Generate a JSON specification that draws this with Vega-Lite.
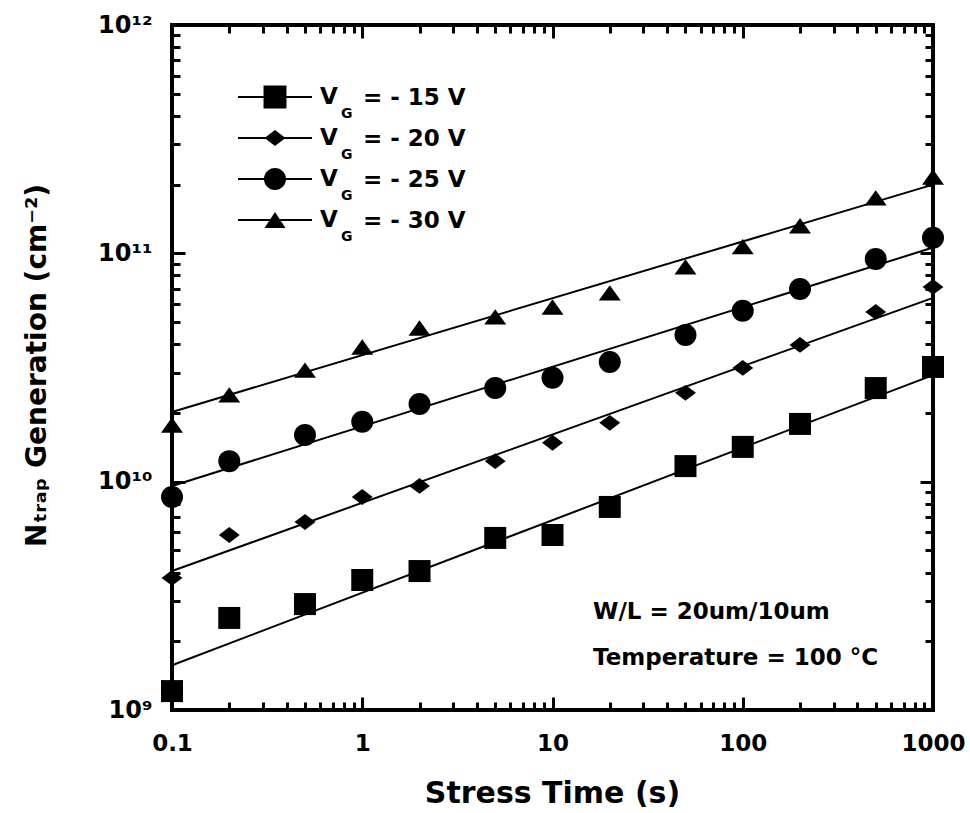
{
  "$schema": "https://vega.github.io/schema/vega-lite/v6.json",
  "width": 761,
  "height": 685,
  "autosize": "none",
  "padding": {"left": 172, "top": 25, "right": 37, "bottom": 103},
  "background": "white",
  "config": {
    "font": "DejaVu Sans",
    "view": {"stroke": "black", "strokeWidth": 4},
    "axis": {"grid": false, "domain": false, "tickColor": "black", "tickWidth": 3, "labelColor": "black", "titleColor": "black"}
  },
  "datasets": {
    "pts": [
      {"series": "-15 V", "t": 0.1, "n": 1.21e9},
      {"series": "-15 V", "t": 0.2, "n": 2.53e9},
      {"series": "-15 V", "t": 0.5, "n": 2.91e9},
      {"series": "-15 V", "t": 1, "n": 3.71e9},
      {"series": "-15 V", "t": 2, "n": 4.06e9},
      {"series": "-15 V", "t": 5, "n": 5.67e9},
      {"series": "-15 V", "t": 10, "n": 5.84e9},
      {"series": "-15 V", "t": 20, "n": 7.75e9},
      {"series": "-15 V", "t": 50, "n": 1.17e10},
      {"series": "-15 V", "t": 100, "n": 1.42e10},
      {"series": "-15 V", "t": 200, "n": 1.79e10},
      {"series": "-15 V", "t": 500, "n": 2.57e10},
      {"series": "-15 V", "t": 1000, "n": 3.18e10},
      {"series": "-20 V", "t": 0.1, "n": 3.79e9},
      {"series": "-20 V", "t": 0.2, "n": 5.84e9},
      {"series": "-20 V", "t": 0.5, "n": 6.66e9},
      {"series": "-20 V", "t": 1, "n": 8.57e9},
      {"series": "-20 V", "t": 2, "n": 9.58e9},
      {"series": "-20 V", "t": 5, "n": 1.23e10},
      {"series": "-20 V", "t": 10, "n": 1.48e10},
      {"series": "-20 V", "t": 20, "n": 1.81e10},
      {"series": "-20 V", "t": 50, "n": 2.45e10},
      {"series": "-20 V", "t": 100, "n": 3.15e10},
      {"series": "-20 V", "t": 200, "n": 3.97e10},
      {"series": "-20 V", "t": 500, "n": 5.54e10},
      {"series": "-20 V", "t": 1000, "n": 7.13e10},
      {"series": "-25 V", "t": 0.1, "n": 8.57e9},
      {"series": "-25 V", "t": 0.2, "n": 1.23e10},
      {"series": "-25 V", "t": 0.5, "n": 1.60e10},
      {"series": "-25 V", "t": 1, "n": 1.83e10},
      {"series": "-25 V", "t": 2, "n": 2.19e10},
      {"series": "-25 V", "t": 5, "n": 2.57e10},
      {"series": "-25 V", "t": 10, "n": 2.85e10},
      {"series": "-25 V", "t": 20, "n": 3.34e10},
      {"series": "-25 V", "t": 50, "n": 4.39e10},
      {"series": "-25 V", "t": 100, "n": 5.60e10},
      {"series": "-25 V", "t": 200, "n": 6.98e10},
      {"series": "-25 V", "t": 500, "n": 9.45e10},
      {"series": "-25 V", "t": 1000, "n": 1.17e11},
      {"series": "-30 V", "t": 0.1, "n": 1.77e10},
      {"series": "-30 V", "t": 0.2, "n": 2.40e10},
      {"series": "-30 V", "t": 0.5, "n": 3.08e10},
      {"series": "-30 V", "t": 1, "n": 3.89e10},
      {"series": "-30 V", "t": 2, "n": 4.71e10},
      {"series": "-30 V", "t": 5, "n": 5.27e10},
      {"series": "-30 V", "t": 10, "n": 5.82e10},
      {"series": "-30 V", "t": 20, "n": 6.71e10},
      {"series": "-30 V", "t": 50, "n": 8.72e10},
      {"series": "-30 V", "t": 100, "n": 1.07e11},
      {"series": "-30 V", "t": 200, "n": 1.32e11},
      {"series": "-30 V", "t": 500, "n": 1.75e11},
      {"series": "-30 V", "t": 1000, "n": 2.16e11}
    ],
    "fits": [
      {"series": "-15 V", "t": 0.1, "n": 1.57e9},
      {"series": "-15 V", "t": 1000, "n": 2.93e10},
      {"series": "-20 V", "t": 0.1, "n": 4.06e9},
      {"series": "-20 V", "t": 1000, "n": 6.38e10},
      {"series": "-25 V", "t": 0.1, "n": 9.58e9},
      {"series": "-25 V", "t": 1000, "n": 1.06e11},
      {"series": "-30 V", "t": 0.1, "n": 2.02e10},
      {"series": "-30 V", "t": 1000, "n": 2.00e11}
    ]
  },
  "layer": [
    {
      "data": {"name": "fits"},
      "mark": {"type": "line", "strokeWidth": 2},
      "encoding": {
        "x": {
          "field": "t", "type": "quantitative",
          "scale": {"type": "log", "domain": [0.1, 1000], "nice": false},
          "axis": {
            "orient": "bottom",
            "values": [0.1,0.2,0.3,0.4,0.5,0.6,0.7,0.8,0.9,1,2,3,4,5,6,7,8,9,10,20,30,40,50,60,70,80,90,100,200,300,400,500,600,700,800,900,1000],
            "tickSize": {"condition": {"test": "indexof([0.1,1,10,100,1000], datum.value) >= 0", "value": -13}, "value": -8},
            "labelExpr": "indexof([0.1,1,10,100,1000], datum.value) >= 0 ? '' + datum.value : ''",
            "labelFlush": false, "labelOverlap": false, "labelBound": false,
            "labelFont": "DejaVu Sans", "labelFontSize": 23, "labelFontWeight": "bold",
            "labelBaseline": "top", "labelPadding": 35,
            "title": "Stress Time (s)", "titleFont": "DejaVu Sans", "titleFontSize": 30, "titleFontWeight": "bold",
            "titleX": 380, "titleY": 92, "titleAlign": "center", "titleBaseline": "alphabetic"
          }
        },
        "y": {
          "field": "n", "type": "quantitative",
          "scale": {"type": "log", "domain": [1e9, 1e12], "nice": false},
          "axis": {
            "orient": "left",
            "values": [1e9,2e9,3e9,4e9,5e9,6e9,7e9,8e9,9e9,1e10,2e10,3e10,4e10,5e10,6e10,7e10,8e10,9e10,1e11,2e11,3e11,4e11,5e11,6e11,7e11,8e11,9e11,1e12],
            "tickSize": {"condition": {"test": "indexof([1e9,1e10,1e11,1e12], datum.value) >= 0", "value": -13}, "value": -8},
            "labelExpr": "datum.value == 1e9 ? '10⁹' : datum.value == 1e10 ? '10¹⁰' : datum.value == 1e11 ? '10¹¹' : datum.value == 1e12 ? '10¹²' : ''",
            "labelFlush": false, "labelOverlap": false, "labelBound": false,
            "labelFont": "DejaVu Sans", "labelFontSize": 24, "labelFontWeight": "bold",
            "labelBaseline": "middle", "labelAlign": "right", "labelPadding": 33,
            "title": "Nₜᵣₐₚ Generation (cm⁻²)", "titleFont": "DejaVu Sans", "titleFontSize": 28, "titleFontWeight": "bold",
            "titleX": -127, "titleY": 340, "titleAngle": 270, "titleAlign": "center", "titleBaseline": "alphabetic"
          }
        },
        "detail": {"field": "series", "type": "nominal"},
        "color": {
          "field": "series", "type": "nominal",
          "scale": {"range": ["black", "black", "black", "black"]},
          "legend": {
            "orient": "none", "legendX": 149, "legendY": 82, "title": null,
            "symbolSize": 1, "symbolStrokeWidth": 1, "symbolOpacity": 0,
            "labelExpr": "'G'", "labelFont": "DejaVu Sans", "labelFontSize": 14, "labelFontWeight": "bold", "labelColor": "black",
            "labelOffset": 6, "rowPadding": 27
          }
        }
      }
    },
    {
      "data": {"name": "pts"},
      "mark": {"type": "point", "filled": true, "color": "black", "size": 484},
      "encoding": {
        "x": {
          "field": "t", "type": "quantitative",
          "axis": {
            "orient": "top",
            "values": [0.1,0.2,0.3,0.4,0.5,0.6,0.7,0.8,0.9,1,2,3,4,5,6,7,8,9,10,20,30,40,50,60,70,80,90,100,200,300,400,500,600,700,800,900,1000],
            "tickSize": {"condition": {"test": "indexof([0.1,1,10,100,1000], datum.value) >= 0", "value": -13}, "value": -8},
            "labels": false, "title": null
          }
        },
        "y": {
          "field": "n", "type": "quantitative",
          "axis": {
            "orient": "right",
            "values": [1e9,2e9,3e9,4e9,5e9,6e9,7e9,8e9,9e9,1e10,2e10,3e10,4e10,5e10,6e10,7e10,8e10,9e10,1e11,2e11,3e11,4e11,5e11,6e11,7e11,8e11,9e11,1e12],
            "tickSize": {"condition": {"test": "indexof([1e9,1e10,1e11,1e12], datum.value) >= 0", "value": -13}, "value": -8},
            "labels": false, "title": null
          }
        },
        "shape": {
          "field": "series", "type": "nominal",
          "scale": {"range": ["M-1,-1H1V1H-1Z", "M-0.95,0L0,-0.72L0.95,0L0,0.72Z", "circle", "M-1,0.7L0,-0.7L1,0.7Z"]},
          "legend": null
        },
        "opacity": {
          "field": "series", "type": "ordinal",
          "scale": {"range": [1, 1, 1, 1]},
          "legend": {
            "orient": "none", "legendX": 168, "legendY": 61, "title": null,
            "symbolSize": 0.01, "symbolStrokeWidth": 0, "symbolOpacity": 0,
            "symbolFillColor": "transparent", "symbolStrokeColor": "transparent",
            "labelExpr": "'= - ' + slice(datum.label, 1)",
            "labelFont": "DejaVu Sans", "labelFontSize": 23, "labelFontWeight": "bold", "labelColor": "black", "labelLimit": 400,
            "labelOffset": 0, "rowPadding": 17
          }
        }
      }
    },
    {
      "data": {"name": "pts"},
      "transform": [{"filter": "false"}],
      "mark": {"type": "point", "filled": true, "color": "black", "opacity": 1},
      "encoding": {
        "shape": {
          "field": "series", "type": "nominal",
          "scale": {
            "domain": ["-15 V", "-20 V", "-25 V", "-30 V"],
            "range": [
              "M-1.321,-0.036H1.321V0.036H-1.321ZM-0.41,-0.41H0.41V0.41H-0.41Z",
              "M-1.321,-0.036H1.321V0.036H-1.321ZM-0.375,0L0,-0.286L0.375,0L0,0.286Z",
              "M-1.321,-0.036H1.321V0.036H-1.321ZM0.393,0A0.393,0.393,0,1,1,-0.393,0A0.393,0.393,0,1,1,0.393,0Z",
              "M-1.321,-0.036H1.321V0.036H-1.321ZM-0.375,0.286L0,-0.286L0.375,0.286Z"
            ]
          },
          "legend": {
            "orient": "none", "legendX": 75, "legendY": 44, "title": null,
            "symbolSize": 3136, "symbolStrokeWidth": 0, "symbolFillColor": "black", "symbolStrokeColor": "black", "symbolOpacity": 1,
            "labelExpr": "'V'",
            "labelFont": "DejaVu Sans", "labelFontSize": 23, "labelFontWeight": "bold", "labelColor": "black", "labelLimit": 400,
            "labelOffset": 17, "rowPadding": 1
          }
        }
      }
    },
    {
      "data": {"values": [{}]},
      "mark": {"type": "text", "align": "left", "baseline": "alphabetic", "font": "DejaVu Sans", "fontSize": 23, "fontWeight": "bold", "color": "black", "lineHeight": 46},
      "encoding": {
        "x": {"datum": 16.33, "type": "quantitative", "axis": null},
        "y": {"datum": 2.503e9, "type": "quantitative", "axis": null},
        "text": {"value": ["W/L = 20um/10um", "Temperature = 100 °C"]}
      }
    }
  ],
  "resolve": {"scale": {"shape": "independent"}, "axis": {"x": "independent", "y": "independent"}}
}
